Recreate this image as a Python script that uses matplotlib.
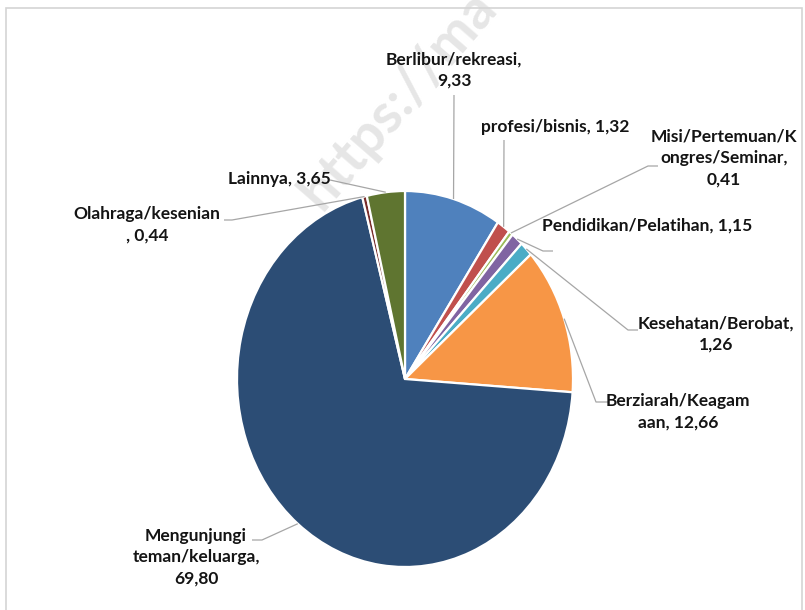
import numpy as np
import matplotlib
matplotlib.use("Agg")
import matplotlib.pyplot as plt
from matplotlib.patches import Rectangle

# Tujuan perjalanan (persen)
categories = [
    "Berlibur/rekreasi",
    "profesi/bisnis",
    "Misi/Pertemuan/Kongres/Seminar",
    "Pendidikan/Pelatihan",
    "Kesehatan/Berobat",
    "Berziarah/Keagamaan",
    "Mengunjungi teman/keluarga",
    "Olahraga/kesenian",
    "Lainnya",
]
values = [9.33, 1.32, 0.41, 1.15, 1.26, 12.66, 69.80, 0.44, 3.65]

# Label text as wrapped in the chart ({} takes the value)
label_templates = [
    "Berlibur/rekreasi,\n{}",
    "profesi/bisnis, {}",
    "Misi/Pertemuan/K\nongres/Seminar,\n{}",
    "Pendidikan/Pelatihan, {}",
    "Kesehatan/Berobat,\n{}",
    "Berziarah/Keagam\naan, {}",
    "Mengunjungi\nteman/keluarga,\n{}",
    "Olahraga/kesenian\n, {}",
    "Lainnya, {}",
]

colors = ["#4F81BD", "#C0504D", "#9BBB59", "#8064A2", "#4BACC6",
          "#F79646", "#2C4D75", "#772C2A", "#5F7530"]

# Layout in pixels
W, H = 805, 610
CX, CY = 405, 379      # pie centre
RX, RY = 168, 188      # pie radii (slightly tall ellipse)

label_pos = [(454, 70), (555, 127), (724, 158), (647, 226), (716, 334),
             (678, 412), (196, 557), (147, 225), (279, 179)]
leader_pts = [
    [(454, 95)],
    [(504, 140)],
    [(648, 166), (658, 166)],
    [(543, 251), (553, 251)],
    [(628, 330), (638, 330)],
    [(596, 402), (608, 402)],
    [(262, 540), (252, 540)],
    [(232, 220), (224, 220)],
    [(330, 180)],
]


def to_data(x, y):
    return (x - CX) / RX, (CY - y) / RY


fig = plt.figure(figsize=(W / 100, H / 100), dpi=100)
fig.patch.set_facecolor("white")
ax = fig.add_axes([0, 0, 1, 1])

# watermark behind the chart
wx, wy = to_data(322, 212)
ax.text(wx, wy, "https://ma", rotation=49, rotation_mode="anchor",
        ha="left", va="baseline", fontsize=40, fontweight="bold",
        family="Lato", color="#e6e6e6", zorder=0)

ax.pie(values, colors=colors, startangle=90, counterclock=False,
       wedgeprops=dict(edgecolor="white", linewidth=1.6))
ax.set_aspect("auto")
ax.set_xlim(-CX / RX, (W - CX) / RX)
ax.set_ylim((CY - H) / RY, CY / RY)
ax.axis("off")

total = sum(values)
cum = 0.0
for v, tmpl, (lx, ly), pts in zip(values, label_templates, label_pos, leader_pts):
    theta = np.deg2rad(360.0 * (cum + v / 2) / total)
    cum += v
    ex, ey = np.sin(theta), np.cos(theta)
    xs = [ex] + [to_data(px, py)[0] for px, py in pts]
    ys = [ey] + [to_data(px, py)[1] for px, py in pts]
    ax.plot(xs, ys, color="#a6a6a6", lw=0.9, zorder=3, solid_capstyle="butt")
    tx, ty = to_data(lx, ly)
    txt = tmpl.format(f"{v:.2f}".replace(".", ","))
    ax.text(tx, ty, txt, ha="center", va="center", multialignment="center",
            fontsize=12.5, fontweight="bold", family="Lato", color="#141414",
            linespacing=1.4, zorder=4)

# outer chart frame
fig.add_artist(Rectangle((6 / W, -0.05), (802 - 6) / W, 1.05 - 8 / H,
                         transform=fig.transFigure, fill=False,
                         edgecolor="#d4d4d4", lw=1.2))

fig.savefig("out.png", dpi=100)
